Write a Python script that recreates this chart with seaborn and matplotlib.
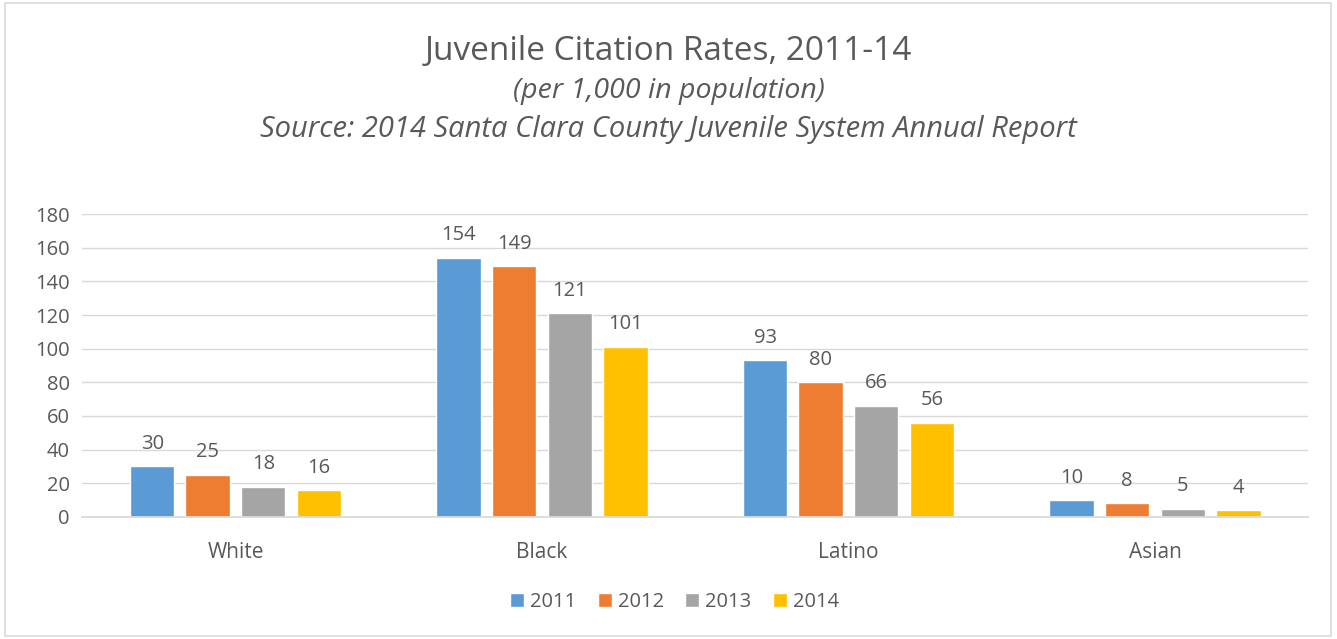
import matplotlib
matplotlib.use("Agg")
import matplotlib.pyplot as plt
import seaborn as sns
import pandas as pd
from matplotlib.patches import Rectangle

categories = ["White", "Black", "Latino", "Asian"]
years = ["2011", "2012", "2013", "2014"]
values_2011 = [30, 154, 93, 10]
values_2012 = [25, 149, 80, 8]
values_2013 = [18, 121, 66, 5]
values_2014 = [16, 101, 56, 4]
colors = ["#5B9BD5", "#ED7D31", "#A5A5A5", "#FFC000"]

rows = []
for yr, vals in zip(years, [values_2011, values_2012, values_2013, values_2014]):
    for c, v in zip(categories, vals):
        rows.append({"Group": c, "Year": yr, "Rate": v})
df = pd.DataFrame(rows)

sns.set_theme(style="white")
plt.rcParams['font.family'] = ['Open Sans', 'DejaVu Sans']
txt = "#595959"

fig = plt.figure(figsize=(13.37, 6.39), dpi=100)
ax = fig.add_axes([0.0615, 0.191, 0.917, 0.474])

sns.barplot(data=df, x="Group", y="Rate", hue="Year", order=categories,
            hue_order=years, palette=colors, width=0.725, gap=0.2,
            saturation=1, ax=ax, legend=True)

for cont in ax.containers:
    ax.bar_label(cont, fmt="%d", padding=9, color=txt, fontsize=14.5)

ax.set_ylim(0, 180)
ax.set_xlim(-0.5, 3.5)
ax.set_yticks(range(0, 181, 20))
ax.yaxis.grid(True, color="#D9D9D9", linewidth=1)
ax.set_axisbelow(True)
for s in ["top", "right", "left"]:
    ax.spines[s].set_visible(False)
ax.spines["bottom"].set_color("#D9D9D9")
ax.tick_params(axis="both", length=0, labelcolor=txt, labelsize=14.5)
ax.tick_params(axis="x", labelsize=15, pad=18)
ax.tick_params(axis="y", pad=9)
ax.set_xlabel("")
ax.set_ylabel("")

leg = ax.legend(loc="center", bbox_to_anchor=(0.483, -0.282), ncol=4, frameon=False,
                fontsize=14.5, handlelength=0.7, handleheight=0.7,
                handletextpad=0.3, columnspacing=1.05)
for t in leg.get_texts():
    t.set_color(txt)

fig.text(0.5, 1 - 52/639, "Juvenile Citation Rates, 2011-14", ha="center", va="center",
         fontsize=24, color=txt)
fig.text(0.5, 1 - 91/639, "(per 1,000 in population)", ha="center", va="center",
         fontsize=20.5, color=txt, style="italic")
fig.text(0.5, 1 - 129/639, "Source: 2014 Santa Clara County Juvenile System Annual Report",
         ha="center", va="center", fontsize=21, color=txt, style="italic")

fig.patches.append(Rectangle((5/1337, 3/639), 1326/1337, 633/639, transform=fig.transFigure,
                             fill=False, edgecolor="#D9D9D9", linewidth=1.2))

fig.savefig("out.png", dpi=100, facecolor="white")
